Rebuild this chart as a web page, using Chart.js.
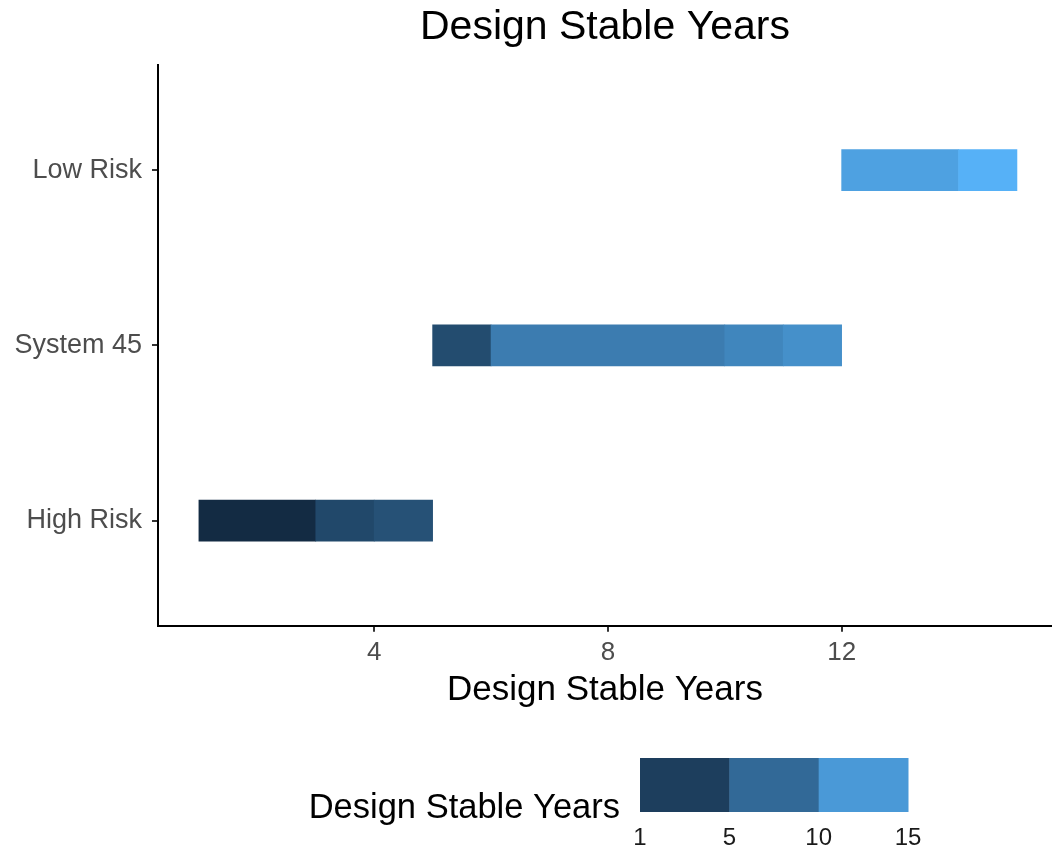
<!DOCTYPE html>
<html>
<head>
<meta charset="utf-8">
<script src="https://cdn.jsdelivr.net/npm/chart.js@4.4.1/dist/chart.umd.min.js"></script>
<style>
  html, body { margin: 0; padding: 0; background: #fff; }
</style>
</head>
<body>
<canvas id="chart" width="1052" height="858"></canvas>
<script>
// data
const categories = ['High Risk', 'System 45', 'Low Risk'];
const segRow   = [0, 0, 0, 1, 1, 1, 1, 2, 2];          // which category each tile belongs to
const segStart = [1, 3, 4, 5, 6, 10, 11, 12, 14];
const segEnd   = [3, 4, 5, 6, 10, 11, 12, 14, 15];
const segFill  = [1, 4, 5, 4.4, 9.5, 10.5, 11.5, 13.3, 15]; // value mapped to colour
const xTicks = [4, 8, 12];
const legendBreaks = [1, 5, 10, 15];

const titleText = 'Design Stable Years';
const fontFam = '"Liberation Sans", Arial, Helvetica, sans-serif';

// ggplot default gradient #132B43 -> #56B1F7
const lowCol = [19, 43, 67];
const highCol = [86, 177, 247];
function fillColor(v) {
  let t = (v - legendBreaks[0]) / (legendBreaks[legendBreaks.length - 1] - legendBreaks[0]);
  t = Math.max(0, Math.min(1, t));
  const c = lowCol.map((lo, i) => Math.round(lo + (highCol[i] - lo) * t));
  return 'rgb(' + c.join(',') + ')';
}

let tiles = [];
for (let i = 0; i < segRow.length; i++) {
  tiles.push({ x: [segStart[i], segEnd[i]], y: segRow[i] + 1 });
}

// legend drawn by hand, ggplot binned colour bar
const fillLegend = {
  id: 'fillLegend',
  afterDraw(chart) {
    const ctx = chart.ctx;
    const x0 = 640, x1 = 908, y0 = 758, y1 = 812;
    const n = legendBreaks.length - 1;
    const w = (x1 - x0) / n;
    ctx.save();
    for (let i = 0; i < n; i++) {
      ctx.fillStyle = fillColor((legendBreaks[i] + legendBreaks[i + 1]) / 2);
      ctx.fillRect(x0 + i * w, y0, w + 0.5, y1 - y0);
    }
    ctx.fillStyle = '#1a1a1a';
    ctx.font = '24px ' + fontFam;
    ctx.textAlign = 'center';
    ctx.textBaseline = 'middle';
    legendBreaks.forEach((b, i) => ctx.fillText(String(b), x0 + i * w, 838));
    ctx.fillStyle = '#000';
    ctx.font = '34.5px ' + fontFam;
    ctx.textAlign = 'right';
    ctx.fillText(titleText, 620, 808);
    ctx.restore();
  }
};

const chart = new Chart('chart', {
  type: 'bar',
  data: {
    datasets: [{
      data: tiles,
      backgroundColor: segFill.map(fillColor),
      borderWidth: 0,
      barThickness: 41
    }]
  },
  options: {
    responsive: false,
    animation: false,
    indexAxis: 'y',
    layout: { padding: { left: 0, right: 0, top: 0, bottom: 150 } },
    plugins: {
      legend: { display: false },
      tooltip: { enabled: false },
      title: {
        display: true,
        text: titleText,
        fullSize: false,
        color: '#000',
        font: { family: fontFam, size: 41, weight: 'normal', lineHeight: 1 },
        padding: { top: 7, bottom: 17 }
      }
    },
    scales: {
      x: {
        type: 'linear',
        min: 0.3,
        max: 15.6,
        afterBuildTicks: (axis) => { axis.ticks = xTicks.map(v => ({ value: v })); },
        grid: { display: true, drawOnChartArea: false, drawTicks: true, tickLength: 6, color: '#333', lineWidth: 2 },
        border: { display: true, color: '#000', width: 2 },
        ticks: { color: '#4d4d4d', padding: 5, font: { family: fontFam, size: 26 } },
        title: {
          display: true,
          text: titleText,
          color: '#000',
          font: { family: fontFam, size: 35, lineHeight: 1 },
          padding: { top: 0, bottom: 0 }
        }
      },
      y: {
        type: 'linear',
        min: 0.4,
        max: 3.6,
        offset: false,
        afterBuildTicks: (axis) => { axis.ticks = categories.map((c, i) => ({ value: i + 1 })); },
        afterFit: (axis) => { axis.width = 158; },
        grid: { display: true, offset: false, drawOnChartArea: false, drawTicks: true, tickLength: 6, color: '#333', lineWidth: 2 },
        border: { display: true, color: '#000', width: 2 },
        ticks: {
          color: '#4d4d4d',
          padding: 10,
          font: { family: fontFam, size: 27 },
          callback: (v) => categories[Math.round(v) - 1]
        }
      }
    }
  },
  plugins: [fillLegend]
});
</script>
</body>
</html>
